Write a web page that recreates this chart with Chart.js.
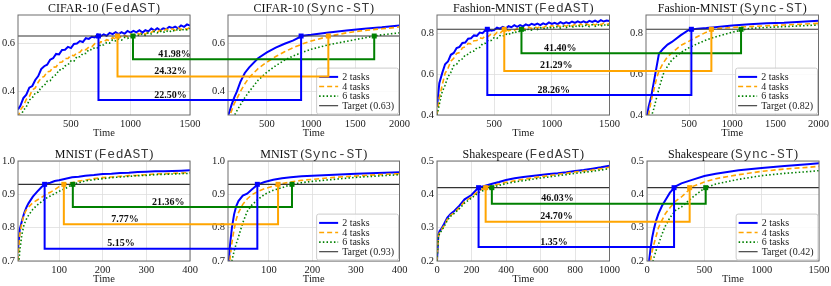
<!DOCTYPE html>
<html><head><meta charset="utf-8">
<script src="https://cdn.jsdelivr.net/npm/chart.js@4.4.1/dist/chart.umd.min.js"></script>
<style>
html,body{margin:0;padding:0;background:#fff;width:831px;height:286px;overflow:hidden;position:relative}
canvas.pc{position:absolute}
#ov{position:absolute;left:0;top:0;pointer-events:none;z-index:5}
.ttl{position:absolute;font-family:'Liberation Serif','Times New Roman',serif;font-size:12px;color:#111;white-space:nowrap;transform:translate(-50%,-50%);line-height:1}
.ttl .m{font-family:'Liberation Mono','Courier New',monospace;font-size:13px;letter-spacing:0.6px;color:#3a3a3a}
</style></head><body>
<canvas id="ov" width="831" height="286"></canvas>
<script>
// ---------------- DATA ----------------
const datasetNames = ['CIFAR-10', 'Fashion-MNIST', 'MNIST', 'Shakespeare'];
const methods = ['FedAST', 'Sync-ST'];
const taskLabels = ['2 tasks', '4 tasks', '6 tasks'];

// CIFAR-10
const cifarTarget = 0.63;
const cifarY = [0.303, 0.717];
const cifarYTicks = [0.4, 0.6];
const cifarFedX = [55, 1500];
const cifarFedTicks = [500, 1000, 1500];
const cifarSyncX = [60, 2000];
const cifarSyncTicks = [500, 1000, 1500, 2000];
const cifarFedT = [55,75,100,125,150,175,200,225,250,275,300,325,350,375,400,425,450,475,500,525,550,575,600,625,650,675,700,725,750,775,800,825,850,875,900,925,950,975,1000,1025,1050,1075,1100,1125,1150,1175,1200,1225,1250,1275,1300,1325,1350,1375,1400,1425,1450,1475,1500];
const cifarFed2 = [0.326,0.341,0.373,0.387,0.416,0.423,0.448,0.464,0.493,0.505,0.511,0.532,0.538,0.556,0.554,0.572,0.573,0.585,0.580,0.597,0.599,0.609,0.605,0.621,0.618,0.627,0.624,0.636,0.630,0.637,0.631,0.643,0.638,0.646,0.638,0.646,0.639,0.651,0.644,0.651,0.645,0.654,0.644,0.654,0.649,0.661,0.653,0.662,0.654,0.662,0.658,0.668,0.663,0.669,0.662,0.674,0.668,0.678,0.673];
const cifarFed4 = [0.293,0.324,0.340,0.368,0.379,0.406,0.415,0.439,0.457,0.463,0.482,0.484,0.501,0.502,0.520,0.522,0.537,0.537,0.551,0.548,0.561,0.563,0.577,0.573,0.584,0.585,0.598,0.594,0.606,0.605,0.615,0.610,0.624,0.618,0.631,0.623,0.632,0.627,0.638,0.634,0.643,0.637,0.646,0.637,0.648,0.645,0.653,0.646,0.654,0.648,0.659,0.654,0.660,0.654,0.664,0.657,0.663,0.658,0.666];
const cifarFed6 = [0.288,0.296,0.322,0.337,0.365,0.374,0.394,0.398,0.418,0.424,0.443,0.445,0.463,0.470,0.490,0.490,0.506,0.511,0.527,0.526,0.545,0.544,0.557,0.558,0.574,0.573,0.583,0.581,0.595,0.593,0.603,0.601,0.615,0.610,0.618,0.613,0.624,0.620,0.627,0.631,0.636,0.632,0.639,0.633,0.644,0.639,0.648,0.643,0.650,0.644,0.652,0.646,0.654,0.650,0.659,0.651,0.659,0.655,0.662];
const cifarSyncT = [60,80,100,130,160,200,250,300,400,500,600,700,800,900,1000,1200,1400,1600,1800,2000];
const cifarSync2 = [0.300,0.320,0.345,0.375,0.400,0.440,0.477,0.500,0.538,0.562,0.582,0.598,0.612,0.631,0.635,0.645,0.653,0.660,0.666,0.674];
const cifarSync4 = [0.280,0.300,0.320,0.350,0.370,0.400,0.432,0.458,0.495,0.522,0.545,0.565,0.582,0.597,0.609,0.629,0.643,0.653,0.660,0.667];
const cifarSync6 = [0.250,0.265,0.280,0.300,0.320,0.345,0.375,0.400,0.447,0.480,0.507,0.530,0.548,0.562,0.575,0.594,0.608,0.622,0.635,0.643];
const cifarFedHit = [731, 891, 1021];
const cifarSyncHit = [887, 1195, 1714];
const cifarLevels = [0.365, 0.462, 0.534];
const cifarSavings = ['22.50%', '24.32%', '41.98%'];
const cifarLabelX = [1336, 1336, 1370];

// Fashion-MNIST
const fmTarget = 0.82;
const fmY = [0.4, 0.89];
const fmYTicks = [0.4, 0.6, 0.8];
const fmFedX = [5, 1500];
const fmFedTicks = [500, 1000, 1500];
const fmSyncX = [0, 2000];
const fmSyncTicks = [500, 1000, 1500, 2000];
const fmFedT = [5,25,50,75,100,125,150,175,200,225,250,275,300,325,350,375,400,425,450,475,500,525,550,575,600,625,650,675,700,725,750,775,800,825,850,875,900,925,950,975,1000,1025,1050,1075,1100,1125,1150,1175,1200,1225,1250,1275,1300,1325,1350,1375,1400,1425,1450,1475,1500];
const fmFed2 = [0.440,0.556,0.605,0.649,0.662,0.695,0.704,0.728,0.734,0.753,0.755,0.774,0.776,0.790,0.788,0.804,0.801,0.816,0.821,0.813,0.816,0.828,0.823,0.832,0.824,0.835,0.830,0.840,0.832,0.840,0.834,0.844,0.838,0.847,0.841,0.848,0.840,0.849,0.843,0.854,0.846,0.852,0.845,0.855,0.848,0.854,0.849,0.858,0.851,0.859,0.853,0.859,0.852,0.861,0.856,0.862,0.855,0.865,0.858,0.863,0.861];
const fmFed4 = [0.400,0.484,0.546,0.604,0.628,0.664,0.678,0.702,0.706,0.729,0.734,0.751,0.749,0.764,0.765,0.778,0.775,0.788,0.785,0.797,0.791,0.805,0.801,0.812,0.822,0.812,0.818,0.815,0.824,0.818,0.827,0.821,0.830,0.824,0.832,0.826,0.834,0.828,0.836,0.830,0.838,0.832,0.839,0.833,0.841,0.835,0.842,0.836,0.844,0.837,0.845,0.839,0.846,0.840,0.847,0.841,0.849,0.842,0.850,0.843,0.849];
const fmFed6 = [0.400,0.452,0.514,0.546,0.587,0.609,0.642,0.648,0.669,0.675,0.694,0.697,0.711,0.713,0.729,0.731,0.749,0.752,0.767,0.765,0.779,0.776,0.789,0.785,0.797,0.793,0.805,0.800,0.812,0.808,0.821,0.812,0.822,0.816,0.826,0.819,0.828,0.821,0.830,0.823,0.832,0.825,0.834,0.826,0.835,0.828,0.837,0.829,0.838,0.831,0.839,0.832,0.841,0.833,0.842,0.834,0.843,0.835,0.844,0.836,0.844];
const fmSyncT = [10,30,60,90,120,150,200,250,300,400,500,600,700,800,1000,1200,1400,1600,1800,2000];
const fmSync2 = [0.39,0.44,0.49,0.56,0.63,0.70,0.725,0.745,0.758,0.79,0.818,0.823,0.826,0.830,0.838,0.845,0.849,0.852,0.857,0.862];
const fmSync4 = [0.36,0.40,0.47,0.52,0.575,0.615,0.655,0.685,0.705,0.74,0.762,0.785,0.806,0.823,0.829,0.833,0.837,0.841,0.845,0.849];
const fmSync6 = [0.32,0.35,0.39,0.43,0.48,0.53,0.60,0.64,0.67,0.705,0.73,0.75,0.768,0.782,0.806,0.824,0.829,0.833,0.837,0.841];
const fmFedHit = [441, 588, 737];
const fmSyncHit = [526, 758, 1102];
const fmLevels = [0.498, 0.616, 0.702];
const fmSavings = ['28.26%', '21.29%', '41.40%'];
const fmLabelX = [1016, 1039, 1074];

// MNIST
const mnTarget = 0.93;
const mnY = [0.7, 1.0];
const mnYTicks = [0.7, 0.8, 0.9, 1.0];
const mnFedX = [6, 400];
const mnFedTicks = [100, 200, 300, 400];
const mnSyncX = [6, 400];
const mnSyncTicks = [100, 200, 300, 400];
const mnFedT = [6,10,15,20,25,30,40,50,60,70,80,90,100,115,130,145,160,180,200,220,240,260,280,300,320,340,360,380,400];
const mnFed2 = [0.735,0.795,0.82,0.843,0.86,0.873,0.893,0.908,0.922,0.932,0.935,0.94,0.942,0.947,0.951,0.953,0.956,0.958,0.961,0.962,0.964,0.965,0.967,0.968,0.969,0.969,0.970,0.971,0.972];
const mnFed4 = [0.70,0.78,0.815,0.84,0.853,0.862,0.875,0.883,0.891,0.90,0.906,0.914,0.923,0.931,0.935,0.94,0.943,0.947,0.95,0.952,0.954,0.956,0.957,0.959,0.961,0.962,0.963,0.964,0.965];
const mnFed6 = [0.66,0.73,0.78,0.81,0.825,0.837,0.855,0.868,0.878,0.888,0.895,0.902,0.909,0.918,0.929,0.935,0.94,0.944,0.947,0.95,0.952,0.954,0.956,0.957,0.959,0.96,0.961,0.962,0.963];
const mnSyncT = [6,10,15,20,25,30,40,50,60,75,90,110,130,150,175,200,250,300,350,400];
const mnSync2 = [0.66,0.74,0.80,0.84,0.865,0.88,0.896,0.902,0.914,0.93,0.937,0.944,0.948,0.951,0.954,0.956,0.959,0.962,0.964,0.966];
const mnSync4 = [0.63,0.70,0.755,0.795,0.825,0.845,0.87,0.886,0.898,0.909,0.917,0.925,0.932,0.937,0.942,0.945,0.951,0.955,0.959,0.962];
const mnSync6 = [0.60,0.645,0.70,0.73,0.752,0.772,0.815,0.848,0.867,0.885,0.90,0.912,0.92,0.929,0.935,0.939,0.945,0.951,0.955,0.959];
const mnFedHit = [67, 111, 131.6];
const mnSyncHit = [73.4, 121, 153];
const mnLevels = [0.737, 0.81, 0.862];
const mnSavings = ['5.15%', '7.77%', '21.36%'];
const mnLabelX = [242, 251, 350];

// Shakespeare
const shTarget = 0.42;
const shY = [0.2, 0.5];
const shYTicks = [0.2, 0.3, 0.4, 0.5];
const shFedX = [0, 1000];
const shFedTicks = [0, 200, 400, 600, 800, 1000];
const shSyncX = [0, 1500];
const shSyncTicks = [0, 500, 1000, 1500];
const shFedT = [0,8,15,25,40,60,80,100,130,160,200,240,280,320,360,400,450,500,550,600,650,700,750,800,850,900,950,1000];
const shFed2 = [0.20,0.28,0.29,0.296,0.31,0.33,0.342,0.35,0.366,0.385,0.398,0.42,0.426,0.432,0.437,0.443,0.448,0.452,0.455,0.458,0.461,0.463,0.466,0.47,0.473,0.477,0.481,0.486];
const shFed4 = [0.20,0.275,0.285,0.293,0.305,0.325,0.338,0.345,0.36,0.378,0.392,0.41,0.42,0.426,0.431,0.436,0.441,0.445,0.449,0.453,0.456,0.46,0.463,0.467,0.47,0.473,0.477,0.481];
const shFed6 = [0.20,0.272,0.283,0.29,0.302,0.322,0.335,0.343,0.357,0.374,0.389,0.405,0.414,0.421,0.427,0.432,0.437,0.441,0.445,0.449,0.452,0.456,0.459,0.463,0.466,0.469,0.473,0.477];
const shSyncT = [10,20,30,45,60,80,100,130,160,200,250,300,400,500,600,800,1000,1200,1400,1500];
const shSync2 = [0.16,0.205,0.235,0.27,0.295,0.322,0.342,0.365,0.382,0.405,0.424,0.433,0.444,0.455,0.462,0.472,0.479,0.485,0.49,0.493];
const shSync4 = [0.13,0.165,0.20,0.23,0.25,0.275,0.30,0.322,0.342,0.36,0.38,0.392,0.424,0.437,0.447,0.459,0.469,0.476,0.481,0.484];
const shSync6 = [0.10,0.13,0.16,0.19,0.21,0.232,0.25,0.28,0.305,0.33,0.352,0.362,0.392,0.418,0.431,0.445,0.456,0.463,0.468,0.471];
const shFedHit = [241, 282, 318];
const shSyncHit = [236, 372, 512];
const shLevels = [0.242, 0.318, 0.372];
const shSavings = ['1.35%', '24.70%', '46.03%'];
const shLabelX = [678, 693, 698];

// ---------------- STYLE / LAYOUT ----------------
const SERIF = "'Liberation Serif','Times New Roman',serif";
const COLORS = ['#0000ff', '#ffa500', '#008000'];
const WIDTHS = [2, 1.6, 1.6];
const DASHES = [[], [5, 3], [1.5, 2.2]];
const ORDERS = [3, 2, 1];
const TARGET_COLOR = '#333333';
const PAD_L = 30, PAD_T = 15, PAD_B = 30;

const groups = [
  {name: datasetNames[0], target: cifarTarget, y: cifarY, yt: cifarYTicks,
   fed: {t: cifarFedT, s: [cifarFed2, cifarFed4, cifarFed6], x: cifarFedX, xt: cifarFedTicks, rect: [18, 15, 190, 115]},
   sync: {t: cifarSyncT, s: [cifarSync2, cifarSync4, cifarSync6], x: cifarSyncX, xt: cifarSyncTicks, rect: [228, 15, 399.5, 115]},
   fedHit: cifarFedHit, syncHit: cifarSyncHit, levels: cifarLevels, savings: cifarSavings, labelX: cifarLabelX},
  {name: datasetNames[1], target: fmTarget, y: fmY, yt: fmYTicks,
   fed: {t: fmFedT, s: [fmFed2, fmFed4, fmFed6], x: fmFedX, xt: fmFedTicks, rect: [437, 15, 609.5, 115]},
   sync: {t: fmSyncT, s: [fmSync2, fmSync4, fmSync6], x: fmSyncX, xt: fmSyncTicks, rect: [646, 15, 818.5, 115]},
   fedHit: fmFedHit, syncHit: fmSyncHit, levels: fmLevels, savings: fmSavings, labelX: fmLabelX},
  {name: datasetNames[2], target: mnTarget, y: mnY, yt: mnYTicks,
   fed: {t: mnFedT, s: [mnFed2, mnFed4, mnFed6], x: mnFedX, xt: mnFedTicks, rect: [18, 161, 190, 261]},
   sync: {t: mnSyncT, s: [mnSync2, mnSync4, mnSync6], x: mnSyncX, xt: mnSyncTicks, rect: [228, 161, 399.5, 261]},
   fedHit: mnFedHit, syncHit: mnSyncHit, levels: mnLevels, savings: mnSavings, labelX: mnLabelX},
  {name: datasetNames[3], target: shTarget, y: shY, yt: shYTicks,
   fed: {t: shFedT, s: [shFed2, shFed4, shFed6], x: shFedX, xt: shFedTicks, rect: [437, 161, 609.5, 261]},
   sync: {t: shSyncT, s: [shSync2, shSync4, shSync6], x: shSyncX, xt: shSyncTicks, rect: [647, 161, 819, 261]},
   fedHit: shFedHit, syncHit: shSyncHit, levels: shLevels, savings: shSavings, labelX: shLabelX}
];

const framePlugin = {
  id: 'frame',
  afterDatasetsDraw(chart) {
    const {ctx, chartArea: a} = chart;
    ctx.save();
    ctx.strokeStyle = '#6e6e6e';
    ctx.lineWidth = 1;
    ctx.strokeRect(a.left, a.top, a.right - a.left, a.bottom - a.top);
    ctx.restore();
  }
};

const boxLegend = {
  id: 'boxLegend',
  afterDraw(chart, args, opts) {
    if (!opts || !opts.show) return;
    const {ctx, chartArea: a} = chart;
    const ds = chart.data.datasets;
    ctx.save();
    ctx.font = '10px ' + SERIF;
    let maxW = 0;
    ds.forEach(d => { maxW = Math.max(maxW, ctx.measureText(d.label).width); });
    const rowH = 9.6;
    const boxW = 26 + maxW + 4;
    const boxH = ds.length * rowH + 7.5;
    const right = a.right - 1.5, bottom = a.bottom - 1.5;
    const left = right - boxW, top = bottom - boxH;
    ctx.fillStyle = 'rgba(255,255,255,0.85)';
    ctx.strokeStyle = '#cccccc';
    ctx.lineWidth = 1;
    ctx.beginPath();
    if (ctx.roundRect) ctx.roundRect(left + 0.5, top + 0.5, boxW, boxH, 2); else ctx.rect(left + 0.5, top + 0.5, boxW, boxH);
    ctx.fill(); ctx.stroke();
    ds.forEach((d, i) => {
      const cy = top + 9.3 + i * rowH;
      ctx.strokeStyle = d.borderColor;
      ctx.lineWidth = d.borderWidth;
      ctx.setLineDash(d.borderDash || []);
      ctx.beginPath();
      ctx.moveTo(left + 3, cy);
      ctx.lineTo(left + 22, cy);
      ctx.stroke();
      ctx.setLineDash([]);
      ctx.fillStyle = '#222';
      ctx.textBaseline = 'middle';
      ctx.textAlign = 'left';
      ctx.fillText(d.label, left + 26, cy + 0.5);
    });
    ctx.restore();
  }
};

function makeTitle(name, method, rect) {
  const d = document.createElement('div');
  d.className = 'ttl';
  d.style.left = ((rect[0] + rect[2]) / 2) + 'px';
  d.style.top = (rect[1] - 7.5) + 'px';
  const a = document.createTextNode(name + ' (');
  const m = document.createElement('span'); m.className = 'm'; m.textContent = method;
  const b = document.createTextNode(')');
  d.appendChild(a); d.appendChild(m); d.appendChild(b);
  document.body.appendChild(d);
}

function makePanel(g, p, methodName, showLegend) {
  const [L, T, R, B] = p.rect;
  const w = Math.ceil(PAD_L + (R - L) + 12);
  const padR = w - PAD_L - (R - L);
  const h = PAD_T + (B - T) + PAD_B;
  const cv = document.createElement('canvas');
  cv.className = 'pc';
  cv.width = w; cv.height = h;
  cv.style.width = w + 'px'; cv.style.height = h + 'px';
  cv.style.left = (L - PAD_L) + 'px';
  cv.style.top = (T - PAD_T) + 'px';
  document.body.appendChild(cv);
  const datasets = p.s.map((vals, i) => ({
    label: taskLabels[i],
    data: p.t.map((x, j) => ({x: x, y: vals[j]})),
    borderColor: COLORS[i], borderWidth: WIDTHS[i], borderDash: DASHES[i],
    pointRadius: 0, fill: false, tension: 0, order: ORDERS[i], clip: 0,
    borderCapStyle: 'butt'
  }));
  datasets.push({
    label: 'Target (' + g.target.toFixed(2) + ')',
    data: [{x: p.x[0], y: g.target}, {x: p.x[1], y: g.target}],
    borderColor: TARGET_COLOR, borderWidth: 1.1, borderDash: [], pointRadius: 0, order: 0, clip: 0
  });
  const chart = new Chart(cv, {
    type: 'line',
    data: {datasets: datasets},
    options: {
      responsive: false, animation: false, devicePixelRatio: 1,
      layout: {padding: {left: 0, top: PAD_T, right: padR, bottom: 0}},
      plugins: {legend: {display: false}, tooltip: {enabled: false}, title: {display: false},
                boxLegend: {show: showLegend}},
      scales: {
        x: {
          type: 'linear', min: p.x[0], max: p.x[1],
          afterBuildTicks: a => { a.ticks = p.xt.map(v => ({value: v})); },
          afterFit: a => { a.height = PAD_B; a.paddingLeft = 0; a.paddingRight = 0; },
          grid: {color: '#dedede', lineWidth: 0.8, drawTicks: false},
          border: {display: false},
          ticks: {font: {family: SERIF, size: 10.5}, color: '#222', padding: 3, maxRotation: 0, autoSkip: false,
                  callback: v => String(v)},
          title: {display: true, text: 'Time', font: {family: SERIF, size: 10.5}, color: '#222', padding: {top: 0, bottom: 5.5}}
        },
        y: {
          type: 'linear', min: g.y[0], max: g.y[1],
          afterBuildTicks: a => { a.ticks = g.yt.map(v => ({value: v})); },
          afterFit: a => { a.width = PAD_L; a.paddingTop = 0; a.paddingBottom = 0; },
          grid: {color: '#dedede', lineWidth: 0.8, drawTicks: false},
          border: {display: false},
          ticks: {font: {family: SERIF, size: 10.5}, color: '#222', padding: 3, autoSkip: false,
                  callback: v => Number(v).toFixed(1)}
        }
      }
    },
    plugins: [framePlugin, boxLegend]
  });
  makeTitle(g.name, methodName, p.rect);
  return {chart: chart, left: L - PAD_L, top: T - PAD_T};
}

const built = groups.map(g => ({
  g: g,
  fed: makePanel(g, g.fed, methods[0], false),
  sync: makePanel(g, g.sync, methods[1], true)
}));

// ---------------- CONNECTORS (overlay) ----------------
const ov = document.getElementById('ov');
const octx = ov.getContext('2d');
function px(panel, axis, v) {
  const s = panel.chart.scales[axis];
  return s.getPixelForValue(v) + (axis === 'x' ? panel.left : panel.top);
}
built.forEach(b => {
  const g = b.g;
  const order = [2, 1, 0];
  order.forEach(i => {
    const fx = px(b.fed, 'x', g.fedHit[i]);
    const fyT = px(b.fed, 'y', g.target);
    const fyL = px(b.fed, 'y', g.levels[i]);
    const sx = px(b.sync, 'x', g.syncHit[i]);
    const syT = px(b.sync, 'y', g.target);
    octx.save();
    octx.strokeStyle = COLORS[i];
    octx.lineWidth = 2;
    octx.lineJoin = 'miter';
    octx.beginPath();
    octx.moveTo(fx, fyT);
    octx.lineTo(fx, fyL);
    octx.lineTo(sx, fyL);
    octx.lineTo(sx, syT);
    octx.stroke();
    octx.fillStyle = COLORS[i];
    octx.fillRect(fx - 2.5, fyT - 2.5, 5, 5);
    octx.fillRect(sx - 2.5, syT - 2.5, 5, 5);
    octx.restore();
  });
  [0, 1, 2].forEach(i => {
    const lx = px(b.fed, 'x', g.labelX[i]);
    const ly = px(b.fed, 'y', g.levels[i]);
    octx.save();
    octx.font = 'bold 10px ' + SERIF;
    octx.fillStyle = '#111';
    octx.textAlign = 'center';
    octx.textBaseline = 'alphabetic';
    octx.fillText(g.savings[i], lx, ly - 2.5);
    octx.restore();
  });
});
</script>
</body></html>
